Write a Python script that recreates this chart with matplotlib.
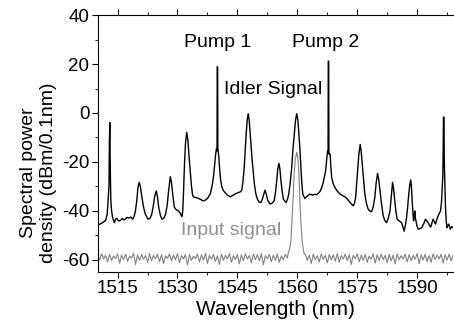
import matplotlib.pyplot as plt
import numpy as np

plt.rcParams['font.family'] = ['Liberation Sans', 'DejaVu Sans']
plt.rcParams['axes.unicode_minus'] = False

# output spectrum (black)
out_wl = [1510.0, 1510.8, 1511.5, 1512.0, 1512.4, 1512.7, 1512.85, 1512.95, 1513.05, 1513.15,
          1513.3, 1513.5, 1513.75, 1514.2, 1514.5, 1514.8, 1515.2, 1515.7, 1516.2, 1516.6,
          1516.9, 1517.3, 1517.8, 1518.3, 1518.8, 1519.2, 1519.5, 1519.8, 1520.1, 1520.4,
          1520.7, 1521.1, 1521.5, 1521.9, 1522.6, 1523.1, 1523.5, 1523.9, 1524.3, 1524.7,
          1525.0, 1525.3, 1525.7, 1526.1, 1526.6, 1527.0, 1527.4, 1527.8, 1528.2, 1528.5,
          1528.8, 1529.2, 1529.6, 1530.2, 1530.7, 1531.1, 1531.3, 1531.5, 1531.75, 1532.0,
          1532.3, 1532.6, 1532.9, 1533.2, 1533.5, 1533.8, 1534.2, 1534.8, 1535.3, 1535.8,
          1536.4, 1536.9, 1537.5, 1538.2, 1538.7, 1539.0, 1539.3, 1539.55, 1539.75, 1539.9,
          1539.95, 1540.05, 1540.1, 1540.25, 1540.4, 1540.55, 1540.8, 1541.1, 1541.5, 1541.9,
          1542.5, 1543.2, 1543.6, 1544.0, 1544.6, 1545.25, 1545.8, 1546.1, 1546.4, 1546.7,
          1547.0, 1547.2, 1547.45, 1547.7, 1547.95, 1548.2, 1548.45, 1548.7, 1549.0, 1549.25,
          1549.6, 1550.0, 1550.4, 1550.85, 1551.2, 1551.5, 1551.9, 1552.2, 1552.6, 1553.2,
          1553.7, 1554.2, 1554.5, 1554.85, 1555.1, 1555.4, 1555.65, 1555.9, 1556.2, 1556.5,
          1557.2, 1557.6, 1557.85, 1558.2, 1558.6, 1558.9, 1559.25, 1559.55, 1559.85, 1560.15,
          1560.4, 1560.65, 1560.9, 1561.1, 1561.35, 1561.9, 1562.5, 1563.1, 1563.8, 1564.4,
          1564.8, 1565.3, 1565.7, 1566.1, 1566.5, 1566.8, 1567.1, 1567.4, 1567.6, 1567.7,
          1567.75, 1567.85, 1567.9, 1568.0, 1568.2, 1568.4, 1568.6, 1569.0, 1569.4, 1570.0,
          1570.7, 1571.3, 1571.9, 1572.4, 1572.75, 1573.4, 1574.0, 1574.3, 1574.6, 1574.85,
          1575.1, 1575.4, 1575.75, 1576.0, 1576.25, 1576.6, 1576.9, 1577.3, 1577.75, 1578.2,
          1578.6, 1579.0, 1579.4, 1579.75, 1580.1, 1580.4, 1580.7, 1581.1, 1581.5, 1581.9,
          1582.35, 1582.8, 1583.2, 1583.5, 1583.85, 1584.1, 1584.4, 1584.7, 1585.0, 1585.5,
          1586.1, 1586.4, 1586.75, 1587.05, 1587.35, 1587.65, 1587.9, 1588.15, 1588.4, 1588.6,
          1588.75, 1588.95, 1589.1, 1589.3, 1589.4, 1589.55, 1589.7, 1590.0, 1590.3, 1590.7,
          1591.1, 1591.6, 1592.1, 1592.4, 1592.75, 1593.1, 1593.4, 1593.7, 1594.0, 1594.3,
          1594.6, 1594.9, 1595.25, 1595.6, 1595.85, 1596.1, 1596.25, 1596.45, 1596.6, 1596.7,
          1596.8, 1596.95, 1597.1, 1597.3, 1597.45, 1597.7, 1597.9, 1598.1, 1598.3, 1598.6,
          1599.0]
out_db = [-46.0, -45.3, -44.6, -44.0, -41.5, -34.0, -30.0, -12.0, -3.9, -20.0,
          -35.5, -40.0, -42.8, -44.9, -43.5, -43.1, -44.2, -44.0, -43.2, -43.8,
          -43.5, -42.8, -43.0, -42.6, -43.5, -42.0, -39.8, -36.0, -30.5, -28.4,
          -30.0, -34.6, -38.5, -41.2, -43.5, -43.2, -41.8, -38.5, -34.0, -31.9,
          -34.5, -38.7, -41.8, -43.5, -43.0, -41.5, -38.0, -31.5, -26.1, -28.5,
          -33.2, -38.5, -39.5, -40.1, -41.0, -42.5, -40.5, -33.0, -21.0, -12.5,
          -7.9, -11.0, -18.0, -24.0, -30.0, -33.8, -34.5, -34.7, -35.0, -35.4,
          -36.0, -35.8, -35.0, -33.2, -29.5, -26.4, -21.0, -17.0, -14.6, -15.5,
          18.9, 18.9, -14.5, -16.5, -19.0, -23.0, -27.5, -30.2, -31.8, -32.6,
          -33.6, -34.3, -34.0, -33.6, -33.0, -32.6, -32.2, -31.5, -28.0, -22.3,
          -14.0, -8.5, -3.0, -0.3, -3.0, -8.5, -14.0, -19.5, -25.0, -29.1,
          -33.0, -35.3, -36.4, -36.7, -35.5, -33.9, -31.6, -33.0, -35.8, -37.3,
          -36.9, -36.0, -33.0, -27.7, -23.0, -20.6, -23.0, -27.7, -32.0, -35.3,
          -36.7, -35.0, -33.2, -29.0, -22.3, -15.0, -8.5, -3.0, -0.3, -3.0,
          -8.5, -15.0, -22.3, -28.0, -33.2, -35.0, -34.0, -33.2, -33.6, -33.3,
          -33.5, -32.8, -32.1, -30.5, -28.4, -26.0, -23.6, -18.1, -15.5, -16.5,
          21.2, 21.2, -15.0, -17.0, -16.8, -22.0, -26.4, -29.0, -30.5, -32.0,
          -33.2, -33.8, -34.3, -35.0, -35.7, -37.0, -38.0, -37.0, -34.6, -29.0,
          -23.6, -17.0, -12.9, -16.0, -20.9, -27.5, -33.2, -37.0, -39.4, -40.2,
          -40.4, -38.5, -34.6, -28.5, -24.7, -27.5, -31.9, -37.5, -42.1, -44.0,
          -44.9, -43.0, -40.1, -34.5, -28.4, -31.0, -36.0, -40.5, -43.5, -44.2,
          -44.9, -46.5, -48.4, -46.0, -42.8, -38.0, -33.2, -29.5, -27.4, -31.0,
          -36.0, -41.0, -44.2, -42.0, -40.1, -43.0, -44.2, -46.5, -47.6, -47.3,
          -47.0, -45.5, -43.5, -44.2, -44.9, -46.0, -46.7, -45.0, -43.5, -44.5,
          -45.5, -43.8, -42.1, -41.0, -40.1, -36.5, -31.9, -25.0, -1.7, -1.7,
          -20.0, -30.0, -38.7, -44.5, -47.0, -46.0, -45.5, -46.5, -47.6, -46.5,
          -47.0]

# input signal (grey): noise floor left of the peak, the peak, noise floor right
in_left = [-58.0, -60.2, -57.6, -59.8, -58.3, -61.0, -57.9, -60.4, -58.5, -59.6,
           -57.7, -61.5, -58.2, -60.0, -57.8, -60.7, -58.6, -59.4, -57.5, -62.0,
           -58.1, -60.3, -57.9, -59.9, -58.4, -61.2, -57.6, -60.5, -58.3, -59.7,
           -57.8, -60.9, -58.0, -61.7, -58.5, -59.5, -57.7, -60.6, -58.2, -60.1,
           -57.6, -61.3, -58.4, -59.8, -58.0, -62.2, -57.9, -60.4, -58.6, -59.6,
           -57.8, -61.0, -58.1, -60.2, -57.5, -61.6, -58.3, -59.9, -57.9, -60.8,
           -58.5, -62.0, -57.8, -60.3, -58.2, -59.7, -57.6, -61.1, -58.4, -60.0,
           -57.9, -61.8, -58.1, -60.5, -57.7, -59.8, -58.3, -61.4, -57.8, -60.1,
           -58.0, -60.6, -57.6, -62.1, -58.4, -59.7, -57.9, -60.9, -58.2, -60.3,
           -57.7, -61.2, -58.5, -60.0, -57.9, -59.4]
peak_wl = [1557.75, 1558.0, 1558.2, 1558.4, 1558.6, 1558.85, 1559.0, 1559.2, 1559.5, 1559.85,
           1560.1, 1560.4, 1560.55, 1560.7, 1560.95, 1561.2, 1561.5, 1561.75]
peak_db = [-57.2, -56.0, -54.5, -52.4, -46.0, -38.7, -33.0, -25.0, -19.0, -16.1,
           -18.0, -25.0, -31.0, -38.7, -46.0, -52.4, -56.0, -57.8]
in_right = [-57.9, -60.4, -58.2, -61.6, -57.8, -60.1, -58.4, -61.0, -57.7, -59.9,
            -58.3, -61.4, -57.9, -60.2, -58.1, -60.7, -57.6, -61.1, -58.4, -59.8,
            -57.8, -60.5, -58.0, -62.0, -58.3, -59.7, -57.7, -60.9, -58.2, -60.3,
            -57.9, -61.2, -58.5, -59.9, -57.6, -61.5, -58.1, -60.4, -57.8, -60.0,
            -58.3, -61.3, -57.9, -60.6, -58.2, -61.8, -57.7, -60.1, -58.4, -59.8,
            -57.8, -61.0, -58.0, -60.5, -58.3, -59.9, -57.6, -61.7, -58.1, -60.2,
            -57.9, -60.8, -58.4, -61.1, -57.7, -60.0, -58.2, -59.8, -57.9, -61.4,
            -58.0, -60.3, -57.8, -60.6, -58.2]

# noise samples every 0.5 nm
left_wl = 1510 + 0.5 * np.arange(len(in_left))
right_wl = 1562 + 0.5 * np.arange(len(in_right))
in_wl = np.concatenate([left_wl, peak_wl, right_wl])
in_db = np.concatenate([in_left, peak_db, in_right])

fig = plt.figure(figsize=(4.54, 3.31), dpi=100)
ax = fig.add_axes([0.215, 0.179, 0.783, 0.775])

ax.plot(in_wl, in_db, color='#808080', lw=0.8)
ax.plot(out_wl, out_db, color='black', lw=1.0)

ax.set_xlim(1510, 1599)
ax.set_ylim(-65, 40)
ax.set_xticks([1515, 1530, 1545, 1560, 1575, 1590])
ax.set_xticks(np.arange(1522.5, 1599, 15), minor=True)
ax.set_yticks([-60, -40, -20, 0, 20, 40])
ax.set_yticks([-50, -30, -10, 10, 30], minor=True)
ax.spines['right'].set_visible(False)
ax.tick_params(axis='both', which='major', direction='out', length=4, labelsize=13.5, pad=2)
ax.tick_params(axis='both', which='minor', direction='out', length=2.5)
ax.tick_params(axis='x', which='both', top=True)

ax.text(1540, 29, 'Pump 1', ha='center', va='center', fontsize=14)
ax.text(1567.2, 29, 'Pump 2', ha='center', va='center', fontsize=14)
ax.text(1554, 9.6, 'Idler Signal', ha='center', va='center', fontsize=14)
ax.text(1543.4, -48.3, 'Input signal', ha='center', va='center', fontsize=14, color='#909090')

ax.set_xlabel('Wavelength (nm)', fontsize=15, labelpad=2)
ax.set_ylabel('Spectral power\ndensity (dBm/0.1nm)', fontsize=14, multialignment='center')
ax.yaxis.set_label_coords(-0.115, 0.385)

fig.savefig('out.png', dpi=100)
